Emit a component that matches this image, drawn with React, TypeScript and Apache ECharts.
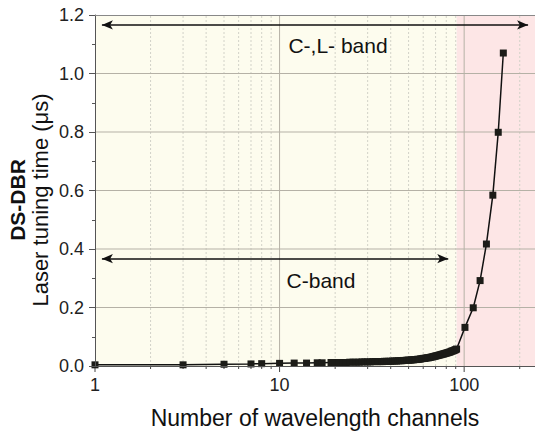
import React, { useEffect, useRef } from "react";
import * as echarts from "echarts";

// ---- data ----
const channels: number[] = [
  1, 3, 5, 7, 8, 10, 12, 14, 16, 17, 19,
  20, 21, 22, 23, 24, 25, 26, 27, 28, 29,
  30, 31, 32, 33, 34, 35, 36, 37, 38, 39,
  40, 41, 42, 43, 44, 45, 46, 47, 48, 49,
  50, 51, 52, 53, 54, 55, 56, 57, 58, 59,
  60, 61, 62, 63, 64, 65, 66, 67, 68, 69,
  70, 71, 72, 73, 74, 75, 76, 77, 78, 79,
  80, 81, 82, 83, 84, 85, 86, 87, 88, 89,
  90, 91,
  101, 112, 122, 132, 143, 153, 163,
];
const tuningTime: number[] = [
  0.004, 0.004, 0.006, 0.007, 0.008, 0.009, 0.010, 0.010, 0.011, 0.011, 0.012,
  0.012, 0.012, 0.012, 0.012, 0.013, 0.013, 0.013, 0.013, 0.014, 0.014,
  0.014, 0.014, 0.015, 0.015, 0.015, 0.015, 0.015, 0.016, 0.016, 0.016,
  0.016, 0.017, 0.017, 0.017, 0.018, 0.018, 0.018, 0.019, 0.019, 0.020,
  0.020, 0.020, 0.021, 0.021, 0.022, 0.022, 0.023, 0.023, 0.024, 0.025,
  0.026, 0.026, 0.027, 0.028, 0.028, 0.029, 0.030, 0.031, 0.032, 0.033,
  0.034, 0.035, 0.036, 0.037, 0.038, 0.039, 0.040, 0.041, 0.042, 0.043,
  0.044, 0.045, 0.046, 0.047, 0.048, 0.050, 0.051, 0.052, 0.053, 0.055,
  0.056, 0.058,
  0.132, 0.199, 0.292, 0.417, 0.584, 0.799, 1.07,
];

const xMin = 1;
const xMax = 242;
const yMin = 0;
const yMax = 1.2;
const xLabels = [1, 10, 100];
const minorGridX = [2, 3, 4, 5, 6, 7, 8, 9, 20, 30, 40, 50, 60, 70, 80, 90, 200];
const majorGridX = [10, 100];
const tickOnlyX = [1];
const gridY = [0.2, 0.4, 0.6, 0.8, 1.0];

const cBandEnd = 91; // boundary between C-band and L-band background
const arrowCL = { from: 1.09, to: 222, y: 1.166 };
const arrowC = { from: 1.09, to: 82, y: 0.367 };

const FONT = "'Liberation Sans', Arial, Helvetica, sans-serif";

export default function App() {
  const ref = useRef<HTMLDivElement>(null);

  useEffect(() => {
    document.body.style.margin = "0";
    if (!ref.current) return;
    const chart = echarts.init(ref.current, undefined, { renderer: "svg" });

    const lineData = channels.map((c, i) => [c, tuningTime[i]]);
    const vData = [
      ...minorGridX.map((x) => [x, 0]),
      ...majorGridX.map((x) => [x, 1]),
      ...tickOnlyX.map((x) => [x, 2]),
    ];
    const hData = gridY.map((y) => [xMin, y]);

    const option: any = {
      animation: false,
      grid: { left: 95, right: 0, top: 15, bottom: 65, containLabel: false },
      xAxis: [
        {
          type: "log",
          logBase: 10,
          min: xMin,
          max: xMax,
          position: "bottom",
          z: 10,
          axisLine: { show: true, lineStyle: { color: "#555", width: 1 } },
          axisTick: { show: false },
          splitLine: { show: false },
          axisLabel: {
            fontSize: 18,
            fontFamily: FONT,
            color: "#222",
            margin: 10,
            showMaxLabel: false,
            formatter: (v: number) => {
              const r = Math.round(v);
              return xLabels.includes(r) && Math.abs(v - r) < 1e-6 ? String(r) : "";
            },
          },
          name: "Number of wavelength channels",
          nameLocation: "middle",
          nameGap: 40,
          nameTextStyle: { fontSize: 23, fontFamily: FONT, color: "#111" },
        },
        {
          type: "log",
          logBase: 10,
          min: xMin,
          max: xMax,
          position: "top",
          z: 10,
          axisLine: { show: true, lineStyle: { color: "#888", width: 1 } },
          axisTick: { show: false },
          axisLabel: { show: false },
          splitLine: { show: false },
        },
      ],
      yAxis: {
        type: "value",
        min: yMin,
        max: yMax,
        interval: 0.2,
        z: 10,
        axisLine: { show: true, lineStyle: { color: "#555", width: 1 } },
        axisTick: { show: true, length: 6, lineStyle: { color: "#555" } },
        minorTick: { show: true, splitNumber: 2, length: 3, lineStyle: { color: "#555" } },
        splitLine: { show: false },
        axisLabel: {
          fontSize: 18,
          fontFamily: FONT,
          color: "#222",
          margin: 11,
          formatter: (v: number) => v.toFixed(1),
        },
      },
      graphic: [
        {
          type: "text",
          x: 17,
          y: 200,
          rotation: Math.PI / 2,
          style: {
            text: "DS-DBR",
            fontSize: 21,
            fontWeight: "bold",
            fontFamily: FONT,
            fill: "#111",
            textAlign: "center",
            textVerticalAlign: "middle",
          },
        },
        {
          type: "text",
          x: 40,
          y: 200,
          rotation: Math.PI / 2,
          style: {
            text: "Laser tuning time (\u03bcs)",
            fontSize: 22,
            fontFamily: FONT,
            fill: "#111",
            textAlign: "center",
            textVerticalAlign: "middle",
          },
        },
        {
          type: "text",
          x: 338,
          y: 45,
          z: 20,
          style: {
            text: "C-,L- band",
            fontSize: 21,
            fontFamily: FONT,
            fill: "#111",
            textAlign: "center",
            textVerticalAlign: "middle",
          },
        },
        {
          type: "text",
          x: 321,
          y: 280,
          z: 20,
          style: {
            text: "C-band",
            fontSize: 21,
            fontFamily: FONT,
            fill: "#111",
            textAlign: "center",
            textVerticalAlign: "middle",
          },
        },
      ],
      series: [
        {
          type: "custom",
          z: 2,
          silent: true,
          data: vData,
          clip: false,
          renderItem: (params: any, api: any) => {
            const x = api.value(0);
            const kind = api.value(1);
            const b = api.coord([x, yMin]);
            const t = api.coord([x, yMax]);
            const children: any[] = [];
            if (kind !== 2) {
              children.push({
                type: "line",
                shape: { x1: b[0], y1: b[1], x2: t[0], y2: t[1] },
                style:
                  kind === 1
                    ? { stroke: "#b5b1a6", lineWidth: 1 }
                    : { stroke: "#d2d2c8", lineWidth: 1, lineDash: [2, 2] },
              });
            }
            children.push({
              type: "line",
              z2: 50,
              shape: { x1: b[0], y1: b[1], x2: b[0], y2: b[1] + (kind === 0 ? 3 : 6) },
              style: { stroke: "#444", lineWidth: 1 },
            });
            return { type: "group", children };
          },
        },
        {
          type: "custom",
          z: 2,
          silent: true,
          data: hData,
          clip: false,
          renderItem: (params: any, api: any) => {
            const y = api.value(1);
            const l = api.coord([xMin, y]);
            const r = api.coord([xMax, y]);
            return {
              type: "line",
              shape: { x1: l[0], y1: l[1], x2: r[0], y2: r[1] },
              style: { stroke: "#b5b1a6", lineWidth: 1 },
            };
          },
        },
        {
          type: "line",
          z: 4,
          data: lineData,
          symbol: "rect",
          symbolSize: 7,
          showSymbol: true,
          showAllSymbol: true,
          itemStyle: { color: "#1c1c18" },
          lineStyle: { color: "#111", width: 1.5 },
          markArea: {
            silent: true,
            data: [
              [
                { xAxis: xMin, yAxis: yMin, itemStyle: { color: "#fdfcee" } },
                { xAxis: cBandEnd, yAxis: yMax },
              ],
              [
                { xAxis: cBandEnd, yAxis: yMin, itemStyle: { color: "#fde6e6" } },
                { xAxis: xMax, yAxis: yMax },
              ],
            ],
          },
          markLine: {
            silent: true,
            symbol: ["arrow", "arrow"],
            symbolSize: [7, 11],
            label: { show: false },
            lineStyle: { color: "#111", width: 1.5, type: "solid" },
            data: [
              [
                { coord: [arrowCL.from, arrowCL.y] },
                { coord: [arrowCL.to, arrowCL.y] },
              ],
              [
                { coord: [arrowC.from, arrowC.y] },
                { coord: [arrowC.to, arrowC.y] },
              ],
            ],
          },
        },
      ],
    };

    chart.setOption(option);
    return () => chart.dispose();
  }, []);

  return <div ref={ref} style={{ width: 535, height: 434 }} />;
}
